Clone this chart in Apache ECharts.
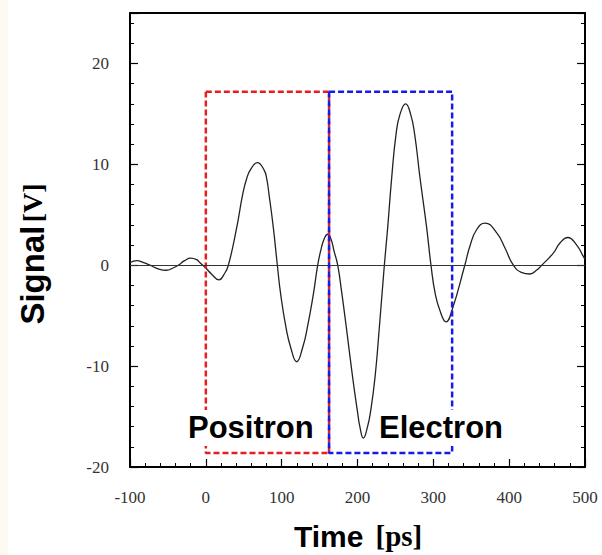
<!DOCTYPE html>
<html>
<head>
<meta charset="utf-8">
<script src="https://cdn.jsdelivr.net/npm/echarts@6/dist/echarts.min.js"></script>
<style>
html,body{margin:0;padding:0;background:#fff;}
#c{width:602px;height:555px;}
</style>
</head>
<body>
<div id="c"></div>
<script>
// ---- data ----
const timePs = [-100,-91,-82,-73.6,-62,-51.6,-44,-36.3,-28,-20,-12,-7.7,-1.1,7.7,17.4,24,29.7,40.7,48.6,53.9,59.1,67.9,76.7,80.2,83.3,89.0,94.3,98.7,105.7,111.9,119.8,127.7,133.9,141.8,147.5,151.4,156,160.7,165,169.0,173.9,179,185,193.6,199.8,203.3,207.7,213.0,217.4,223.1,228.8,235.4,239.8,245.1,250.8,256.0,263.5,270.1,275.4,282.4,291.2,296.9,302.6,308.8,316.7,325.0,341.5,348.3,357.2,368.2,383.6,394.5,405.5,416,427.5,436,443,458.2,467,477.2,489,497.8,500];
const signalV = [0.25,0.45,0.25,0,-0.38,-0.5,-0.3,0,0.45,0.71,0.55,0.24,-0.2,-0.89,-1.45,-0.9,0,3.73,7.03,8.6,9.5,10.17,9.45,8.6,7.03,3.73,0,-2.87,-6.17,-8.15,-9.57,-8.15,-6.17,-2.87,0,1.42,2.6,3.07,2.6,1.42,0,-2.6,-6.0,-11.12,-14.42,-16.07,-17.13,-16.07,-14.42,-11.12,-6.17,0,3.73,8.68,12.97,14.95,16.0,14.95,12.97,8.68,3.73,0,-2.87,-4.52,-5.61,-4.36,0,1.9,3.54,4.18,3.2,1.7,0,-0.7,-0.87,-0.5,0,1.2,2.2,2.75,2.0,0.87,0.6];
// dashed windows: [t0, t1, vTop, vBottom]
const positronBox = [0, 162.5, 17.2, -18.6];
const electronBox = [162.5, 324.8, 17.2, -18.6];
const xTicks = [-100, 0, 100, 200, 300, 400, 500];
const yTicks = [-20, -10, 0, 10, 20];

function rect(b){ return [[b[0],b[2]],[b[1],b[2]],[b[1],b[3]],[b[0],b[3]],[b[0],b[2]]]; }
const curve = timePs.map((t,i)=>[t, signalV[i]]);

const chart = echarts.init(document.getElementById('c'), null, {renderer:'svg'});
const labelFont = {fontFamily:'Liberation Serif', fontSize:17, color:'#333'};
const common = {
  axisLine:{show:true, onZero:false, lineStyle:{color:'#000', width:2}},
  axisTick:{show:true, inside:true, length:8, lineStyle:{color:'#000', width:1.2}},
  minorTick:{show:true, splitNumber:5, length:4, lineStyle:{color:'#000', width:1}},
  splitLine:{show:false}
};
chart.setOption({
  animation:false,
  backgroundColor:'#fff',
  grid:{left:130, right:17, top:13, bottom:88},
  xAxis:[
    Object.assign({type:'value', position:'bottom', min:-100, max:500, interval:100,
      axisLabel:Object.assign({margin:22}, labelFont)}, common),
    {type:'value', position:'top', min:-100, max:500, interval:100,
      axisLine:{show:true, onZero:false, lineStyle:{color:'#000', width:2}}, axisTick:{show:false}, axisLabel:{show:false}, splitLine:{show:false}}
  ],
  yAxis:[
    Object.assign({type:'value', position:'left', min:-20, max:25, interval:10,
      axisLabel:Object.assign({margin:21, formatter:v=> yTicks.indexOf(v)>=0 ? String(v) : ''}, labelFont)}, common),
    Object.assign({type:'value', position:'right', min:-20, max:25, interval:10,
      axisLabel:{show:false}}, common)
  ],
  series:[
    {type:'line', data:curve, smooth:0.5, symbol:'none', z:3,
      lineStyle:{color:'#222', width:1.3},
      markLine:{silent:true, symbol:'none', label:{show:false},
        lineStyle:{color:'#333', width:1.2, type:'solid'}, data:[{yAxis:0}]}},
    {type:'line', data:rect(positronBox), symbol:'none', z:4,
      lineStyle:{color:'#e3201f', width:2.5, type:[6,3]}},
    {type:'line', data:rect(electronBox), symbol:'none', z:5,
      lineStyle:{color:'#1a1ae8', width:2.5, type:[6,3]}}
  ],
  graphic:[
    {type:'rect', left:0, top:0, shape:{width:8, height:555}, style:{fill:'#fcfaf1'}, z:-1},
    {type:'text', left:183, top:410, z:10, style:{text:'Positron', font:'bold 31px "Liberation Sans", Arial, sans-serif', fill:'#000', backgroundColor:'#fff', padding:[2,5,3,5]}},
    {type:'text', left:374, top:410, z:10, style:{text:'Electron', font:'bold 31px "Liberation Sans", Arial, sans-serif', fill:'#000', backgroundColor:'#fff', padding:[2,5,3,5]}},
    {type:'text', left:294, top:521, z:10, style:{
      rich:{a:{font:'bold 30px "Liberation Sans", Arial, sans-serif', fill:'#000'}, b:{font:'bold 29px "Liberation Serif", serif', fill:'#000', padding:[0,0,0,12]}},
      text:'{a|Time}{b|[ps]}'}},
    {type:'text', x:32, y:254, rotation:Math.PI/2, z:10, style:{
      rich:{a:{font:'bold 33px "Liberation Sans", Arial, sans-serif', fill:'#000'}, b:{font:'bold 28px "Liberation Serif", serif', fill:'#000'}},
      text:'{a|Signal} {b|[V]}', align:'center', verticalAlign:'middle'}}
  ]
});
</script>
</body>
</html>
